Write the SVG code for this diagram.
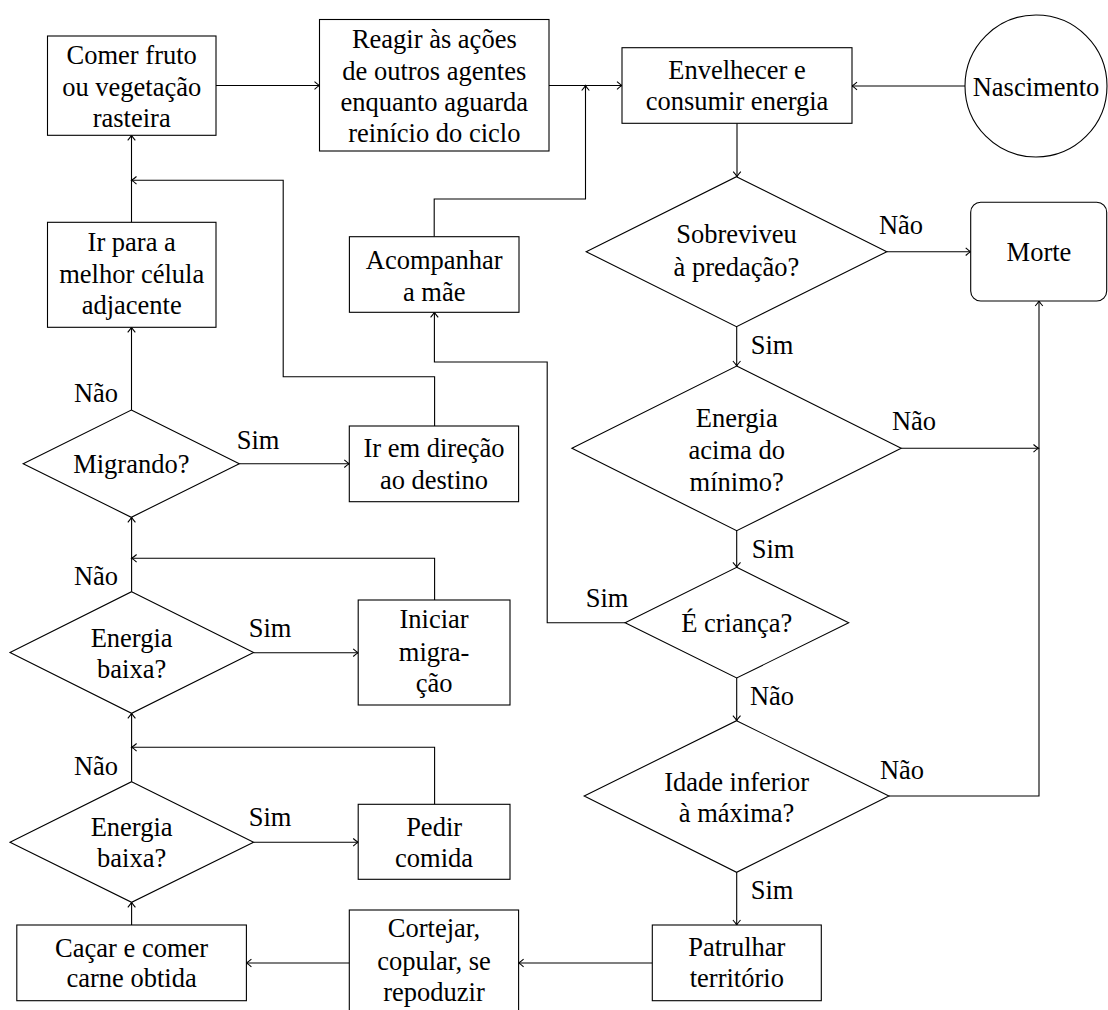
<svg xmlns="http://www.w3.org/2000/svg" width="1108" height="1010" viewBox="0 0 1108 1010" font-family="Liberation Serif, DejaVu Serif, serif">
<style>
.n{fill:#fff;stroke:#000;stroke-width:1.1}
.t{font-size:26.5px;fill:#000;text-anchor:middle}
.c{fill:none;stroke:#000;stroke-width:1.1;marker-end:url(#ar)}
</style>
<defs>
<marker id="ar" markerUnits="userSpaceOnUse" markerWidth="12" markerHeight="12" viewBox="-6 -6 12 12" refX="0" refY="0" orient="auto">
<path d="M-5,-3.8 Q-1.8,-0.9 0,0 Q-1.8,0.9 -5,3.8" fill="none" stroke="#000" stroke-width="1.1"/>
</marker>
</defs>
<rect width="1108" height="1010" fill="#fff"/>
<g id="connectors">
<path class="c" d="M216,85.5 H319.5"/>
<path class="c" d="M549,85.5 H622"/>
<path class="c" d="M965,86 H852"/>
<path class="c" d="M434.2,236.7 V199 H585.5 V85.5"/>
<path class="c" d="M737,123.3 V176.7"/>
<path class="c" d="M886.8,251.7 H970.7"/>
<path class="c" d="M736.7,326.7 V366"/>
<path class="c" d="M901.2,448.3 H1038.5"/>
<path class="c" d="M736.7,530.7 V567.3"/>
<path class="c" d="M625.1,622.7 H547.2 V362 H434.4 V312.3"/>
<path class="c" d="M736.7,678 V720.7"/>
<path class="c" d="M888.9,796 H1039 V301"/>
<path class="c" d="M736.7,872.3 V925"/>
<path class="c" d="M652.3,963 H518.6"/>
<path class="c" d="M349.3,963 H246.4"/>
<path class="c" d="M131.6,925 V902.3"/>
<path class="c" d="M253.6,842.3 H358.2"/>
<path class="c" d="M131.6,781.7 V713.3"/>
<path class="c" d="M434.6,804.3 V747.3 H131.6"/>
<path class="c" d="M253.6,652.7 H358.2"/>
<path class="c" d="M131.6,591.7 V517.3"/>
<path class="c" d="M434.6,600 V558.3 H131.6"/>
<path class="c" d="M239.3,463.7 H349.3"/>
<path class="c" d="M131.5,410 V327.3"/>
<path class="c" d="M434.6,426 V376.7 H283.2 V180.3 H131.5"/>
<path class="c" d="M131.5,222.3 V135.3"/>
<text class="t" x="901" y="234">Não</text>
<text class="t" x="772" y="354">Sim</text>
<text class="t" x="914" y="430">Não</text>
<text class="t" x="773" y="558">Sim</text>
<text class="t" x="607" y="606.5">Sim</text>
<text class="t" x="772" y="705">Não</text>
<text class="t" x="902" y="779">Não</text>
<text class="t" x="772" y="899">Sim</text>
<text class="t" x="270" y="825.5">Sim</text>
<text class="t" x="96" y="774.5">Não</text>
<text class="t" x="270" y="636.5">Sim</text>
<text class="t" x="96" y="585">Não</text>
<text class="t" x="258" y="449">Sim</text>
<text class="t" x="96" y="401.5">Não</text>
</g>
<g id="comer">
<rect class="n" x="47.5" y="36" width="168.5" height="99.3"/>
<text class="t" x="131.7" y="64">Comer fruto</text>
<text class="t" x="131.7" y="95.5">ou vegetação</text>
<text class="t" x="131.7" y="127">rasteira</text>
</g>
<g id="reagir">
<rect class="n" x="319.5" y="19.5" width="229.5" height="131.5"/>
<text class="t" x="434.3" y="48">Reagir às ações</text>
<text class="t" x="434.3" y="79.5">de outros agentes</text>
<text class="t" x="434.3" y="111">enquanto aguarda</text>
<text class="t" x="434.3" y="142">reinício do ciclo</text>
</g>
<g id="envelhecer">
<rect class="n" x="622" y="47.7" width="230" height="75.6"/>
<text class="t" x="737" y="78.5">Envelhecer e</text>
<text class="t" x="737" y="110">consumir energia</text>
</g>
<g id="nascimento">
<circle class="n" cx="1036" cy="86" r="71"/>
<text class="t" x="1036" y="96">Nascimento</text>
</g>
<g id="sobreviveu">
<polygon class="n" points="736.5,176.7 886.8,251.7 736.5,326.7 586.2,251.7"/>
<text class="t" x="736.5" y="243">Sobreviveu</text>
<text class="t" x="736.5" y="276">à predação?</text>
</g>
<g id="morte">
<rect class="n" x="970.7" y="202.3" width="136" height="98.7" rx="10"/>
<text class="t" x="1039" y="261">Morte</text>
</g>
<g id="energia-acima">
<polygon class="n" points="736.7,366 901.2,448.3 736.7,530.7 571.9,448.3"/>
<text class="t" x="736.7" y="427">Energia</text>
<text class="t" x="736.7" y="459">acima do</text>
<text class="t" x="736.7" y="490.5">mínimo?</text>
</g>
<g id="crianca">
<polygon class="n" points="736.7,567.3 848.7,622.7 736.7,678 625.1,622.7"/>
<text class="t" x="736.7" y="632">É criança?</text>
</g>
<g id="idade">
<polygon class="n" points="736.6,720.7 888.9,796 736.6,872.3 584.2,796"/>
<text class="t" x="736.6" y="790.5">Idade inferior</text>
<text class="t" x="736.6" y="821.5">à máxima?</text>
</g>
<g id="patrulhar">
<rect class="n" x="652.3" y="925" width="169" height="75.7"/>
<text class="t" x="736.8" y="955.5">Patrulhar</text>
<text class="t" x="736.8" y="987">território</text>
</g>
<g id="cortejar">
<rect class="n" x="349.3" y="910" width="169.3" height="106"/>
<text class="t" x="434" y="937">Cortejar,</text>
<text class="t" x="434" y="970">copular, se</text>
<text class="t" x="434" y="1001">repoduzir</text>
</g>
<g id="cacar">
<rect class="n" x="16.8" y="925" width="229.6" height="75.7"/>
<text class="t" x="131.6" y="957">Caçar e comer</text>
<text class="t" x="131.6" y="987">carne obtida</text>
</g>
<g id="energia-baixa-2">
<polygon class="n" points="131.6,781.7 253.6,842.3 131.6,902.3 10,842.3"/>
<text class="t" x="131.6" y="835.5">Energia</text>
<text class="t" x="131.6" y="867">baixa?</text>
</g>
<g id="pedir">
<rect class="n" x="358.2" y="804.3" width="151.8" height="75"/>
<text class="t" x="434.1" y="835.5">Pedir</text>
<text class="t" x="434.1" y="867">comida</text>
</g>
<g id="energia-baixa-1">
<polygon class="n" points="131.6,591.7 253.6,652.5 131.6,713.3 10,652.5"/>
<text class="t" x="131.6" y="646.5">Energia</text>
<text class="t" x="131.6" y="677.5">baixa?</text>
</g>
<g id="iniciar">
<rect class="n" x="358.2" y="600" width="151.8" height="105"/>
<text class="t" x="434.1" y="627.5">Iniciar</text>
<text class="t" x="434.1" y="660.5">migra-</text>
<text class="t" x="434.1" y="692">ção</text>
</g>
<g id="migrando">
<polygon class="n" points="131.3,410 239.3,463.7 131.3,517.3 23.2,463.7"/>
<text class="t" x="131.3" y="472.5">Migrando?</text>
</g>
<g id="ir-direcao">
<rect class="n" x="349.3" y="426" width="169.3" height="75.7"/>
<text class="t" x="434" y="457">Ir em direção</text>
<text class="t" x="434" y="488.7">ao destino</text>
</g>
<g id="ir-para">
<rect class="n" x="47.5" y="222.3" width="168.5" height="105"/>
<text class="t" x="131.7" y="251">Ir para a</text>
<text class="t" x="131.7" y="282.5">melhor célula</text>
<text class="t" x="131.7" y="314">adjacente</text>
</g>
<g id="acompanhar">
<rect class="n" x="349.4" y="236.7" width="169.6" height="75.6"/>
<text class="t" x="434.2" y="268.8">Acompanhar</text>
<text class="t" x="434.2" y="300.5">a mãe</text>
</g>
</svg>
